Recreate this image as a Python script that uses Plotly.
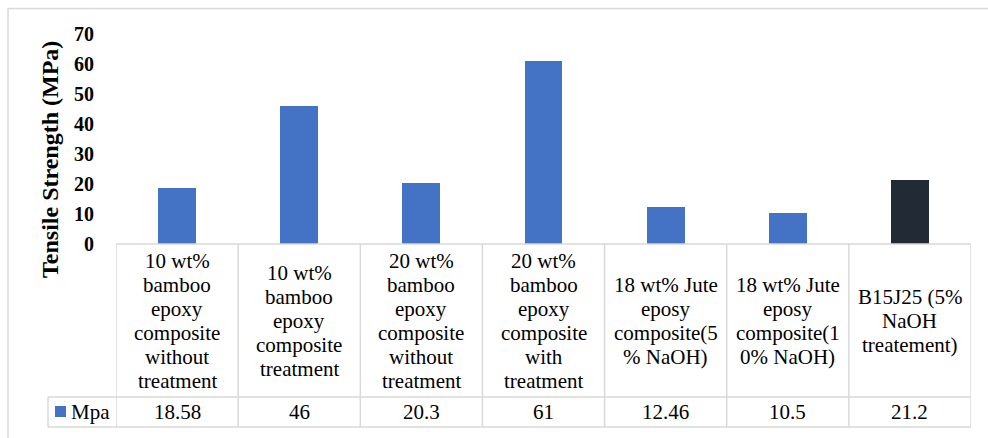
import plotly.graph_objects as go

# ---- data ----
category_lines = [
    ["10 wt%", "bamboo", "epoxy", "composite", "without", "treatment"],
    ["10 wt%", "bamboo", "epoxy", "composite", "treatment"],
    ["20 wt%", "bamboo", "epoxy", "composite", "without", "treatment"],
    ["20 wt%", "bamboo", "epoxy", "composite", "with", "treatment"],
    ["18 wt% Jute", "eposy", "composite(5", "% NaOH)"],
    ["18 wt% Jute", "eposy", "composite(1", "0% NaOH)"],
    ["B15J25 (5%", "NaOH", "treatement)"],
]
mpa_values = [18.58, 46, 20.3, 61, 12.46, 10.5, 21.2]
value_labels = ["18.58", "46", "20.3", "61", "12.46", "10.5", "21.2"]
series_name = "Mpa"
y_title = "Tensile Strength (MPa)"
y_ticks = [0, 10, 20, 30, 40, 50, 60, 70]

# ---- layout constants ----
W, H = 988, 438
L, R, T, B = 116, 17, 34, 194
PW, PH = W - L - R, H - T - B
FONT = "Times New Roman, Liberation Serif, DejaVu Serif, serif"
BLUE = "#4472C4"
DARK = "#222A35"
GRID = "#D9D9D9"
colors = [BLUE] * 6 + [DARK]


def px_x(p):
    return (p - L) / PW


def px_y(p):
    return (T + PH - p) / PH


n = len(mpa_values)
xs = list(range(n))

fig = go.Figure()
fig.add_trace(go.Bar(x=xs, y=mpa_values, width=0.31, marker_color=colors,
                     marker_line_width=0, name=series_name, showlegend=False))

shapes = []
annotations = []

y_mid = px_y(397)
y_bot = px_y(427)
# horizontal table lines
shapes.append(dict(type="line", xref="x", yref="paper", x0=-0.5, x1=n - 0.5, y0=0, y1=0,
                   line=dict(color=GRID, width=1.5)))
for yy in (y_mid, y_bot):
    shapes.append(dict(type="line", xref="paper", yref="paper", x0=px_x(48), x1=1, y0=yy, y1=yy,
                       line=dict(color=GRID, width=1.5)))
# vertical table lines
for i in range(n + 1):
    shapes.append(dict(type="line", xref="x", yref="paper", x0=i - 0.5, x1=i - 0.5, y0=0, y1=y_bot,
                       line=dict(color=GRID, width=1.5)))
shapes.append(dict(type="line", xref="paper", yref="paper", x0=px_x(48), x1=px_x(48), y0=y_mid, y1=y_bot,
                   line=dict(color=GRID, width=1.5)))
# legend key
shapes.append(dict(type="rect", xref="paper", yref="paper", x0=px_x(55), x1=px_x(66),
                   y0=px_y(417), y1=px_y(406), fillcolor=BLUE, line=dict(width=0)))
# outer chart border
shapes.append(dict(type="rect", xref="paper", yref="paper", x0=px_x(8), x1=px_x(1000),
                   y0=px_y(450), y1=px_y(8.5), line=dict(color=GRID, width=1.5), fillcolor="rgba(0,0,0,0)",
                   layer="below"))

# category labels
cell_center = 320.5
spacing = 24
for i, lines in enumerate(category_lines):
    m = len(lines)
    for k, txt in enumerate(lines):
        cy = cell_center + (k - (m - 1) / 2) * spacing
        annotations.append(dict(x=i, y=px_y(cy), xref="x", yref="paper", text=txt, showarrow=False,
                                xanchor="center", yanchor="middle",
                                font=dict(family=FONT, size=21, color="#000000")))
# values row
for i, v in enumerate(value_labels):
    annotations.append(dict(x=i, y=px_y(412), xref="x", yref="paper", text=v, showarrow=False,
                            xanchor="center", yanchor="middle",
                            font=dict(family=FONT, size=21, color="#000000")))
# legend label
annotations.append(dict(x=px_x(69), y=px_y(412), xref="paper", yref="paper", text=series_name,
                        showarrow=False, xanchor="left", yanchor="middle",
                        font=dict(family=FONT, size=21, color="#000000")))
# y-axis title
annotations.append(dict(x=px_x(50), y=px_y(160), xref="paper", yref="paper", text="<b>" + y_title + "</b>",
                        showarrow=False, textangle=-90, xanchor="center", yanchor="middle",
                        font=dict(family=FONT, size=24, color="#000000")))

fig.update_layout(
    width=W, height=H,
    margin=dict(l=L, r=R, t=T, b=B, pad=0),
    paper_bgcolor="white", plot_bgcolor="white",
    shapes=shapes, annotations=annotations,
    bargap=0,
    showlegend=False,
    font=dict(family=FONT),
    xaxis=dict(range=[-0.5, n - 0.5], showticklabels=False, showgrid=False, zeroline=False,
               showline=False, ticks="", fixedrange=True),
    yaxis=dict(range=[0, 70], tickvals=y_ticks, ticktext=["<b>%d</b>" % t for t in y_ticks],
               showgrid=False, zeroline=False, showline=False, ticks="",
               tickfont=dict(family=FONT, size=20, color="#000000"),
               ticklabelstandoff=21, fixedrange=True),
)

fig.write_html("out.html", config={"displayModeBar": False},
               post_script="document.body.style.margin='0';document.body.style.padding='0';")
